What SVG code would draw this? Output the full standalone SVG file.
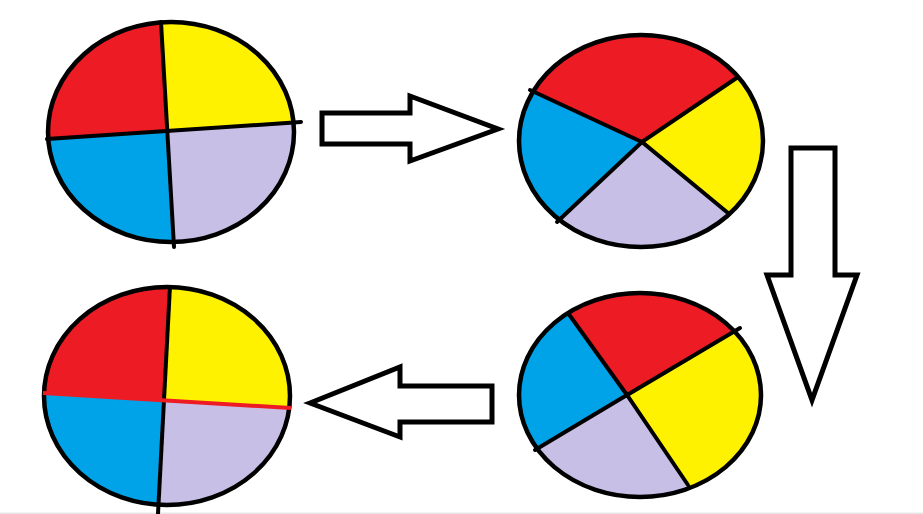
<svg xmlns="http://www.w3.org/2000/svg" width="923" height="514" viewBox="0 0 923 514">
<style>
.r{fill:#ED1C24}.y{fill:#FFF200}.b{fill:#00A2E8}.l{fill:#C8BFE7}
.o{fill:none;stroke:#000;stroke-width:4.5}
.k{stroke:#000;stroke-width:4;stroke-linecap:round;fill:none}
.a{fill:#fff;stroke:#000;stroke-width:5;stroke-linejoin:miter}
</style>
<defs>
<clipPath id="c1"><ellipse cx="171" cy="132" rx="123" ry="110"/></clipPath>
<clipPath id="c2"><ellipse cx="641" cy="141" rx="122" ry="106"/></clipPath>
<clipPath id="c3"><ellipse cx="640" cy="395" rx="121" ry="102"/></clipPath>
<clipPath id="c4"><ellipse cx="167" cy="396" rx="123" ry="109"/></clipPath>
</defs>
<rect width="923" height="514" fill="#fff"/>
<rect x="0" y="512.5" width="923" height="1.5" fill="#E8E8E8"/>
<g id="pie1">
<g clip-path="url(#c1)">
<polygon class="r" points="167,131 159,-10 10,-10 10,141"/>
<polygon class="y" points="167,131 159,-10 330,-10 330,120"/>
<polygon class="l" points="167,131 330,120 330,280 175,280"/>
<polygon class="b" points="167,131 175,280 10,280 10,141"/>
</g>
<ellipse class="o" cx="171" cy="132" rx="123" ry="110"/>
<line class="k" x1="161" y1="22" x2="174" y2="247"/>
<line class="k" x1="47" y1="139" x2="301" y2="122"/>
</g>
<g id="pie2">
<g clip-path="url(#c2)">
<polygon class="r" points="642,142 490,71 490,20 780,20 780,49"/>
<polygon class="y" points="642,142 780,49 800,49 800,248 770,248"/>
<polygon class="l" points="642,142 770,248 770,270 520,270 520,257"/>
<polygon class="b" points="642,142 520,257 500,257 500,71 490,71"/>
</g>
<ellipse class="o" cx="641" cy="141" rx="122" ry="106"/>
<polyline class="k" points="530,90 642,142 738,77"/>
<polyline class="k" points="557,222 642,142 728,213"/>
</g>
<g id="pie3">
<g clip-path="url(#c3)">
<polygon class="r" points="627,395 550,288 550,280 770,280 770,310"/>
<polygon class="y" points="627,395 770,310 790,310 790,505 700,505"/>
<polygon class="l" points="627,395 700,505 700,520 505,520 505,468"/>
<polygon class="b" points="627,395 505,468 500,468 500,288 550,288"/>
</g>
<ellipse class="o" cx="640" cy="395" rx="121" ry="102"/>
<polyline class="k" points="568,313 627,395 740,328"/>
<polyline class="k" points="535,450 627,395 688,485"/>
</g>
<g id="pie4">
<g clip-path="url(#c4)">
<polygon class="r" points="163,400 172,260 10,260 10,391"/>
<polygon class="y" points="163,400 172,260 320,260 320,410"/>
<polygon class="l" points="163,400 320,410 320,530 157,530"/>
<polygon class="b" points="163,400 157,530 10,530 10,391"/>
</g>
<ellipse class="o" cx="167" cy="396" rx="123" ry="109"/>
<line x1="170" y1="286" x2="158" y2="514" stroke="#000" stroke-width="4"/>
<line x1="43" y1="393" x2="291" y2="408" stroke="#ED1C24" stroke-width="4"/>
</g>
<g id="connectors">
<polygon class="a" points="322,113 410,113 410,96 498,129 410,161 410,144 322,144"/>
<polygon class="a" points="791,148 835,148 835,275 857,275 812,400 767,275 791,275"/>
<polygon class="a" points="310,403 400,367 400,386 492,386 492,422 400,422 400,437"/>
</g>
</svg>
